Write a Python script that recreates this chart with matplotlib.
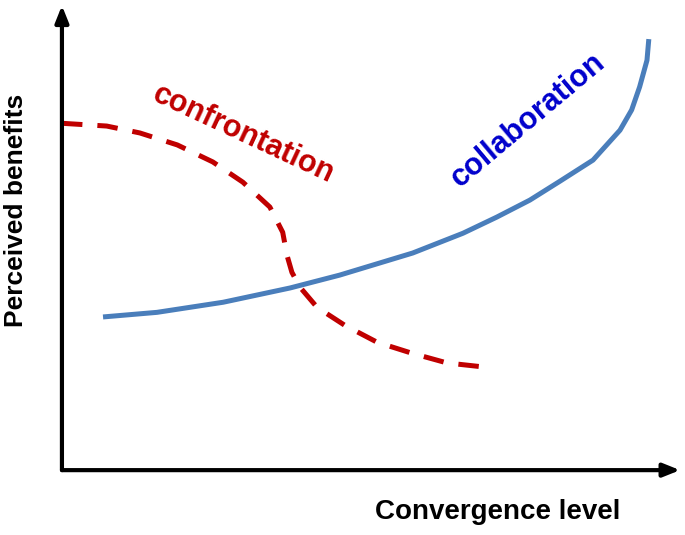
import numpy as np
import matplotlib.pyplot as plt

# values (x: convergence level 0-10, y: perceived benefits 0-10)
collab_x = [0.67, 1.55, 2.63, 3.72, 4.53, 5.72, 6.54, 7.09, 7.63, 8.12, 8.66, 9.10, 9.29, 9.42, 9.54, 9.57]
collab_y = [3.33, 3.43, 3.65, 3.96, 4.24, 4.72, 5.15, 5.50, 5.87, 6.28, 6.74, 7.39, 7.83, 8.33, 8.91, 9.37]

confr_x = [0.0, 0.73, 1.27, 1.88, 2.46, 2.95, 3.39, 3.60, 3.67, 3.75, 3.88, 4.16, 4.61, 5.14, 5.71, 6.28, 7.03]
confr_y = [7.54, 7.48, 7.33, 7.07, 6.70, 6.26, 5.72, 5.17, 4.67, 4.30, 3.98, 3.54, 3.15, 2.78, 2.54, 2.33, 2.22]

fig = plt.figure(figsize=(6.85, 5.35), dpi=100)
ax = fig.add_axes([0, 0, 1, 1])
ax.set_xlim(-1.01, 10.16)
ax.set_ylim(-1.41, 10.22)
ax.axis('off')

font = ['Liberation Sans Narrow', 'Liberation Sans', 'DejaVu Sans']

ax.plot(collab_x, collab_y, color='#4a7ebb', lw=3.6, solid_capstyle='butt', solid_joinstyle='round')
ax.plot(confr_x, confr_y, color='#c00000', lw=3.6, dashes=(4.1, 3.0), dash_capstyle='butt', dash_joinstyle='round')

# axes with arrow heads
arrow = dict(arrowstyle='-|>,head_length=1.0,head_width=0.4', lw=3, color='black', shrinkA=0, shrinkB=0)
ax.annotate('', xy=(10.08, 0), xytext=(0, 0), arrowprops=arrow)
ax.annotate('', xy=(0, 10.1), xytext=(0, 0), arrowprops=arrow)

ax.text(7.1, -0.9, 'Convergence level', ha='center', va='center', fontsize=20, fontweight='bold', family=font)
ax.text(-0.75, 5.65, 'Perceived benefits', ha='center', va='center', rotation=90, fontsize=19, fontweight='bold', family=font)
ax.text(2.95, 7.30, 'confrontation', ha='center', va='center', rotation=-25, fontsize=22, fontweight='bold', color='#c00000', family=font)
ax.text(7.6, 7.6, 'collaboration', ha='center', va='center', rotation=40, fontsize=22, fontweight='bold', color='#0000cc', family=font)

plt.savefig('out.png', dpi=100)
